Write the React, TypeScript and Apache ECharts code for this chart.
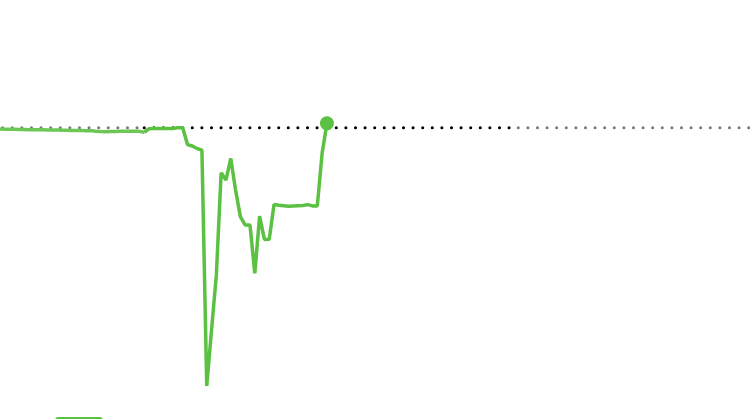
import React, { useEffect, useRef } from "react";
import * as echarts from "echarts";

// x categories: 157 evenly spaced steps across the plot
const categoryCount = 157;
const categories: string[] = Array.from({ length: categoryCount }, (_, i) => String(i));

// earlier period (lighter green), index 0..30
const earlierValues: number[] = [
  -0.51, -0.55, -0.59, -0.63, -0.67, -0.7, -0.74, -0.74, -0.78, -0.82,
  -0.86, -0.9, -0.9, -0.94, -1.02, -1.06, -1.1, -1.1, -1.14, -1.21,
  -1.37, -1.49, -1.53, -1.49, -1.45, -1.41, -1.41, -1.37, -1.37, -1.41,
  -1.8,
];

// current period (green), index 30..68
const currentValues: number[] = [
  -1.8, -0.35, -0.31, -0.31, -0.31, -0.31, -0.31, 0.04, -0.04, -6.58,
  -7.16, -8.14, -8.73, -101.1, -79.2, -57.6, -17.6, -20.5, -12.0, -24.4,
  -34.8, -38.1, -38.1, -57.0, -34.6, -43.7, -43.6, -30.0, -30.3, -30.5,
  -30.7, -30.6, -30.5, -30.4, -30.1, -30.6, -30.6, -10.0, 1.72,
];
const currentStart = 30;

// baseline reference, highlighted range
const baselineValue = 0;
const highlightStart = 30;
const highlightEnd = 106;

const seriesName = "Value";

export default function App() {
  const ref = useRef<HTMLDivElement>(null);

  useEffect(() => {
    if (!ref.current) return;
    const chart = echarts.init(ref.current, undefined, { renderer: "svg" });

    const earlier = categories.map((_, i) => (i < earlierValues.length ? earlierValues[i] : null));
    const lastIdx = currentStart + currentValues.length - 1;
    const current = categories.map((_, i) => {
      if (i < currentStart || i > lastIdx) return null;
      const v = currentValues[i - currentStart];
      return i === lastIdx ? { value: v, symbol: "circle" } : { value: v, symbol: "none" };
    });
    const greyLeft = categories.map((_, i) => (i <= highlightStart ? baselineValue : null));
    const blackMid = categories.map((_, i) => (i >= highlightStart && i <= highlightEnd ? baselineValue : null));
    const greyRight = categories.map((_, i) => (i >= highlightEnd ? baselineValue : null));

    const green = "#5bc142";
    const dotted = (color: string, offset: number) => ({
      type: "line" as const,
      silent: true,
      symbol: "none",
      connectNulls: false,
      lineStyle: { color, width: 3, type: [0.1, 9.5], dashOffset: offset, cap: "round" as const },
      z: 1,
    });

    chart.setOption({
      animation: false,
      grid: { left: -2, right: -2, top: 0, bottom: 0, containLabel: false },
      xAxis: {
        type: "category",
        data: categories,
        boundaryGap: false,
        show: false,
      },
      yAxis: {
        type: "value",
        min: -114,
        max: 50,
        show: false,
        splitLine: { show: false },
      },
      legend: {
        left: 55,
        top: 417,
        padding: 0,
        itemWidth: 48,
        itemHeight: 14,
        itemGap: 0,
        icon: "roundRect",
        data: [seriesName],
        formatter: () => "",
        textStyle: { fontSize: 10, color: "#333", padding: 0 },
      },
      series: [
        { ...dotted("#7a7a7a", 7.4), name: "baseline-left", data: greyLeft },
        { ...dotted("#000000", 0), name: "baseline-range", data: blackMid },
        { ...dotted("#7a7a7a", 1.3), name: "baseline-right", data: greyRight },
        {
          type: "line",
          name: "earlier",
          data: earlier,
          symbol: "none",
          lineStyle: { color: "#6cc757", width: 3.5 },
          itemStyle: { color: "#6cc757" },
          z: 3,
        },
        {
          type: "line",
          name: seriesName,
          data: current,
          symbol: "circle",
          symbolSize: 14,
          showSymbol: true,
          showAllSymbol: true,
          lineStyle: { color: green, width: 3.5 },
          itemStyle: { color: green },
          z: 4,
        },
      ],
    });

    return () => chart.dispose();
  }, []);

  return (
    <div
      ref={ref}
      style={{ position: "absolute", left: 0, top: 0, width: 750, height: 419 }}
    />
  );
}
